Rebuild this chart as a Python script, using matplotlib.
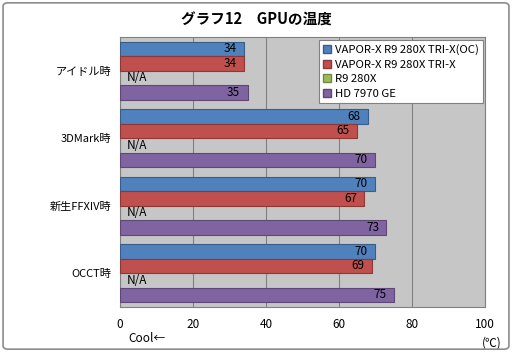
import matplotlib
matplotlib.use("Agg")
import matplotlib.pyplot as plt
from matplotlib.patches import FancyBboxPatch, Patch
import numpy as np

plt.rcParams['font.family'] = ['Noto Sans CJK JP', 'DejaVu Sans']

categories = ["アイドル時", "3DMark時", "新生FFXIV時", "OCCT時"]
series = ["VAPOR-X R9 280X TRI-X(OC)", "VAPOR-X R9 280X TRI-X", "R9 280X", "HD 7970 GE"]
values = [
    [34, 68, 70, 70],
    [34, 65, 67, 69],
    [None, None, None, None],
    [35, 70, 73, 75],
]
colors = ["#4f81bd", "#c0504d", "#9bbb59", "#8064a2"]
edges = ["#385d8a", "#8c3836", "#71893f", "#5c4776"]
xticks = [0, 20, 40, 60, 80, 100]

fig = plt.figure(figsize=(5.12, 3.52), dpi=100)
fig.patches.append(FancyBboxPatch((0.006, 0.008), 0.988, 0.984, boxstyle="round,pad=0,rounding_size=0.01",
                                  transform=fig.transFigure, facecolor="none", edgecolor="#8c8c8c",
                                  lw=1.2, zorder=10))
ax = fig.add_axes([0.234, 0.128, 0.713, 0.767])
ax.set_facecolor("#c6c6c6")

h = 0.215
y = np.arange(len(categories))
for i, (name, vals) in enumerate(zip(series, values)):
    off = (i - 1.5) * h
    for j, v in enumerate(vals):
        if v is None:
            ax.text(2, y[j] + off, "N/A", ha="left", va="center", fontsize=8.5)
            continue
        ax.barh(y[j] + off, v, height=h, color=colors[i], edgecolor=edges[i], lw=0.8, zorder=3)
        ax.text(v - 2, y[j] + off, str(v), ha="right", va="center", fontsize=8.5, zorder=4)

ax.set_xlim(0, 100)
ax.set_ylim(len(categories) - 0.5, -0.5)
ax.set_xticks(xticks)
ax.set_xticklabels([str(t) for t in xticks], fontsize=8.5)
ax.set_yticks(y)
ax.set_yticklabels(categories, fontsize=8)
ax.tick_params(axis="x", length=0, pad=8)
ax.tick_params(axis="y", length=0, pad=6)
ax.grid(axis="x", color="#808080", lw=0.8, zorder=1)
ax.set_axisbelow(True)
for s in ax.spines.values():
    s.set_color("#808080")
    s.set_linewidth(0.8)

handles = [Patch(facecolor=c, edgecolor=e, label=n) for n, c, e in zip(series, colors, edges)]
leg = ax.legend(handles=handles, loc="upper right", bbox_to_anchor=(0.995, 0.99), fontsize=8.2,
                handlelength=0.7, handleheight=0.7, handletextpad=0.3, labelspacing=0.4,
                borderpad=0.4, borderaxespad=0, fancybox=False, framealpha=1, edgecolor="#808080")
leg.get_frame().set_linewidth(0.8)
leg.set_zorder(5)

fig.text(0.5, 0.945, "グラフ12　GPUの温度", ha="center", va="center", fontsize=10.5, fontweight="bold")
fig.text(0.25, 0.02, "Cool←", ha="left", va="bottom", fontsize=8.5)
fig.text(0.98, 0.008, "(℃)", ha="right", va="bottom", fontsize=8.5)

fig.savefig("out.png", dpi=100)
